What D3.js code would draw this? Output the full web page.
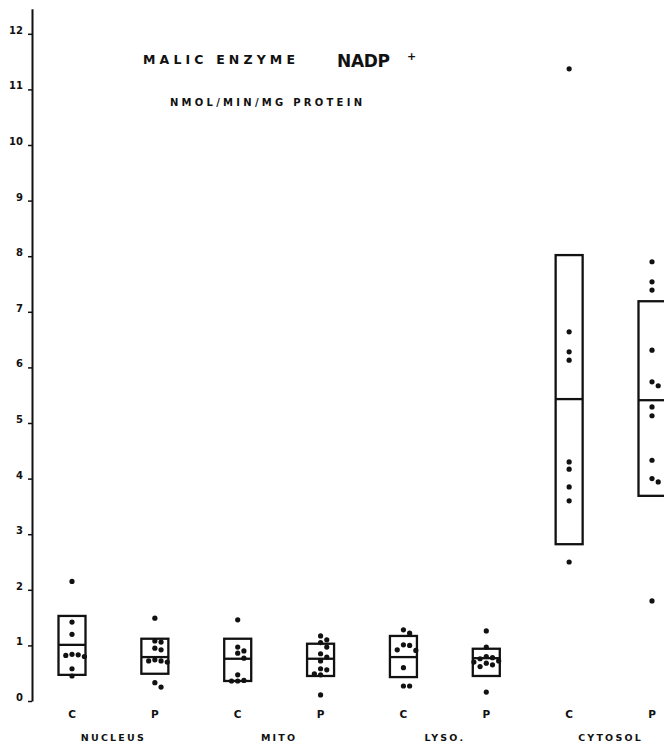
<!DOCTYPE html>
<html>
<head>
<meta charset="utf-8">
<script src="https://cdn.jsdelivr.net/npm/d3@7"></script>
<style>
  body { margin: 0; background: #fff; }
  text { font-family: "DejaVu Sans", sans-serif; font-weight: bold; fill: #111; }
</style>
</head>
<body>
<script>
// fractions and the two series in each
let fractions = ["NUCLEUS", "MITO", "LYSO.", "CYTOSOL"]
let series = ["C", "P"]

// box = low / middle / high
let boxLow  = [0.47, 0.49, 0.36, 0.45, 0.43, 0.45, 2.82, 3.69]
let boxMid  = [1.01, 0.79, 0.76, 0.76, 0.79, 0.77, 5.43, 5.41]
let boxHigh = [1.53, 1.12, 1.12, 1.03, 1.17, 0.94, 8.02, 7.19]

// single points, one list per column
let pts = [
  [2.15, 1.42, 1.2, 0.84, 0.82, 0.8, 0.83, 0.58, 0.45],
  [1.49, 1.08, 1.06, 0.95, 0.92, 0.74, 0.72, 0.72, 0.7, 0.33, 0.25],
  [1.46, 0.97, 0.9, 0.86, 0.77, 0.47, 0.37, 0.36, 0.36],
  [1.17, 1.1, 1.05, 0.97, 0.85, 0.79, 0.72, 0.58, 0.56, 0.49, 0.47, 0.11],
  [1.28, 1.22, 1.01, 1.0, 0.92, 0.91, 0.6, 0.27, 0.27],
  [1.26, 0.97, 0.8, 0.78, 0.76, 0.72, 0.7, 0.68, 0.65, 0.62, 0.16],
  [11.37, 6.64, 6.28, 6.13, 4.3, 4.17, 3.85, 3.6, 2.5],
  [7.9, 7.54, 7.39, 6.31, 5.74, 5.67, 5.29, 5.13, 4.33, 4.0, 3.94, 1.8]
]

let yTicks = [0, 1, 2, 3, 4, 5, 6, 7, 8, 9, 10, 11, 12]

var svg = d3.select("body").append("svg")
  .attr("width", 664)
  .attr("height", 746)

let y = d3.scaleLinear().domain([0, 12.45]).range([701, 701 - 12.45 * 55.6])

let cols = []
fractions.forEach(f => series.forEach(s => cols.push(f + "|" + s)))
let x = d3.scalePoint().domain(cols).range([72, 652])

// y axis
let yAxis = svg.append("g")
  .attr("transform", "translate(32,0)")
  .call(d3.axisLeft(y).tickValues(yTicks).tickSize(4).tickSizeOuter(0).tickPadding(5))
yAxis.select(".domain").attr("stroke", "#111").attr("stroke-width", 2)
yAxis.selectAll(".tick line").attr("stroke", "#111").attr("stroke-width", 1.5)
yAxis.selectAll(".tick text")
  .style("font-family", "DejaVu Sans")
  .style("font-weight", "bold")
  .style("font-size", "10px")
  .attr("dy", "-0.05em")

// boxes
let boxW = 27
cols.forEach((c, i) => {
  let g = svg.append("g")
  g.append("rect")
    .attr("x", x(c) - boxW / 2)
    .attr("y", y(boxHigh[i]))
    .attr("width", boxW)
    .attr("height", y(boxLow[i]) - y(boxHigh[i]))
    .attr("fill", "none")
    .attr("stroke", "#111")
    .attr("stroke-width", 2.3)
  g.append("line")
    .attr("x1", x(c) - boxW / 2)
    .attr("x2", x(c) + boxW / 2)
    .attr("y1", y(boxMid[i]))
    .attr("y2", y(boxMid[i]))
    .attr("stroke", "#111")
    .attr("stroke-width", 2.3)
})

// dots, spread sideways so they don't sit on top of each other
let r = 2.6
function dodge(vals) {
  let placed = []
  vals.slice().sort((a, b) => b - a).forEach(v => {
    let yy = y(v)
    for (let k = 0; k < 20; k++) {
      let dx = (k % 2 ? 1 : -1) * Math.ceil(k / 2) * (2 * r + 1)
      let hit = placed.some(p => (p.dx - dx) ** 2 + (p.y - yy) ** 2 < (2 * r + 0.4) ** 2)
      if (!hit) { placed.push({ dx: dx, y: yy }); break }
    }
  })
  return placed
}

cols.forEach((c, i) => {
  svg.append("g").selectAll("circle")
    .data(dodge(pts[i]))
    .join("circle")
    .attr("cx", d => x(c) + d.dx)
    .attr("cy", d => d.y)
    .attr("r", r)
    .attr("fill", "#111")
})

// C / P labels
svg.append("g").selectAll("text")
  .data(cols)
  .join("text")
  .attr("x", d => x(d))
  .attr("y", 718)
  .attr("text-anchor", "middle")
  .style("font-size", "10.5px")
  .text(d => d.split("|")[1])

// fraction labels
svg.append("g").selectAll("text")
  .data(fractions)
  .join("text")
  .attr("x", d => (x(d + "|C") + x(d + "|P")) / 2)
  .attr("y", 741)
  .attr("text-anchor", "middle")
  .style("font-size", "9.5px")
  .style("letter-spacing", "2.2px")
  .text(d => d)

// title
svg.append("text")
  .attr("x", 143).attr("y", 64)
  .style("font-size", "12.5px")
  .attr("textLength", 152).attr("lengthAdjust", "spacing")
  .text("MALIC  ENZYME")
svg.append("text")
  .attr("x", 337).attr("y", 67)
  .style("font-size", "17px")
  .attr("textLength", 53).attr("lengthAdjust", "spacing")
  .text("NADP")
svg.append("text")
  .attr("x", 407).attr("y", 60)
  .style("font-size", "11px")
  .text("+")
svg.append("text")
  .attr("x", 170).attr("y", 106)
  .style("font-size", "10px")
  .attr("textLength", 192).attr("lengthAdjust", "spacing")
  .text("NMOL/MIN/MG PROTEIN")
</script>
</body>
</html>
